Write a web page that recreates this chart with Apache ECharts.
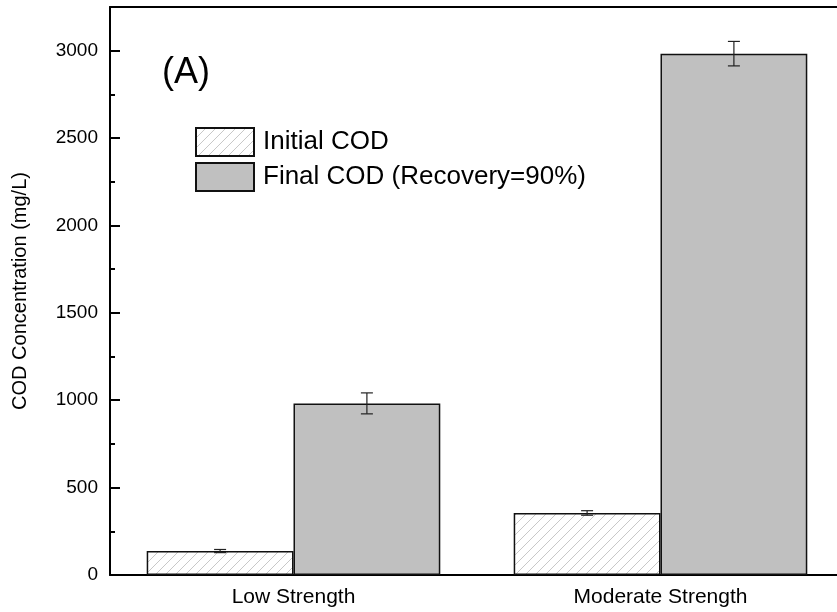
<!DOCTYPE html>
<html>
<head>
<meta charset="utf-8">
<script src="https://cdn.jsdelivr.net/npm/echarts@6/dist/echarts.min.js"></script>
<style>
  html, body { margin: 0; padding: 0; background: #fff; }
  #chart { width: 837px; height: 612px; }
</style>
</head>
<body>
<div id="chart"></div>
<script>
var categories = ['Low Strength', 'Moderate Strength'];
var initialCOD = [137, 355];
var initialErr = [9, 13];
var finalCOD = [982, 2983];
var finalErr = [60, 70];
var yTicks = [0, 500, 1000, 1500, 2000, 2500, 3000];

// hatch pattern for the initial COD bars
function makeHatch() {
    var c = document.createElement('canvas');
    c.width = 10; c.height = 10;
    var ctx = c.getContext('2d');
    ctx.fillStyle = '#fff';
    ctx.fillRect(0, 0, 10, 10);
    ctx.strokeStyle = '#c8c8c8';
    ctx.lineWidth = 1;
    ctx.beginPath();
    ctx.moveTo(-2, 12); ctx.lineTo(12, -2);
    ctx.moveTo(-7, 7); ctx.lineTo(7, -7);
    ctx.moveTo(3, 17); ctx.lineTo(17, 3);
    ctx.stroke();
    return c;
}
var hatch = { image: makeHatch(), repeat: 'repeat' };

function errorSeries(values, errs, offset) {
    return {
        type: 'custom',
        z: 10,
        data: values.map(function (v, i) { return [i, v - errs[i], v + errs[i]]; }),
        renderItem: function (params, api) {
            var lo = api.coord([api.value(0), api.value(1)]);
            var hi = api.coord([api.value(0), api.value(2)]);
            var bw = api.size([1, 0])[0];
            var x = lo[0] + offset * bw;
            var w = 6;
            var st = { stroke: '#222', lineWidth: 1.2 };
            return {
                type: 'group',
                children: [
                    { type: 'line', shape: { x1: x, y1: lo[1], x2: x, y2: hi[1] }, style: st },
                    { type: 'line', shape: { x1: x - w, y1: lo[1], x2: x + w, y2: lo[1] }, style: st },
                    { type: 'line', shape: { x1: x - w, y1: hi[1], x2: x + w, y2: hi[1] }, style: st }
                ]
            };
        }
    };
}

var chart = echarts.init(document.getElementById('chart'));
var option = {
    animation: false,
    textStyle: { fontFamily: 'Liberation Sans, Arial, sans-serif', color: '#000' },
    grid: { left: 110, top: 7, bottom: 37, width: 734, outerBoundsMode: 'none', containLabel: false },
    legend: {
        orient: 'vertical',
        left: 195,
        top: 127,
        icon: 'rect',
        itemWidth: 58,
        itemHeight: 28,
        itemGap: 5,
        padding: 0,
        textStyle: {
            fontSize: 26, lineHeight: 28, color: '#000', padding: [0, 0, 0, 4],
            fontFamily: 'Liberation Sans, Arial, sans-serif'
        },
        data: ['Initial COD', 'Final COD (Recovery=90%)']
    },
    graphic: [{
        type: 'text',
        left: 162,
        top: 55,
        style: { text: '(A)', fontSize: 36, fill: '#000', fontFamily: 'Liberation Sans, Arial, sans-serif' }
    }],
    xAxis: [{
        type: 'category',
        data: categories,
        axisLine: { lineStyle: { color: '#000', width: 2 } },
        axisTick: { inside: true, length: 4, lineStyle: { color: '#000' } },
        axisLabel: { fontSize: 21, color: '#000', margin: 12 }
    }, {
        type: 'category',
        position: 'top',
        data: categories,
        axisLine: { lineStyle: { color: '#000', width: 2 } },
        axisTick: { show: false },
        axisLabel: { show: false }
    }],
    yAxis: {
        type: 'value',
        min: 0,
        max: 3250,
        interval: 500,
        name: 'COD Concentration (mg/L)',
        nameLocation: 'middle',
        nameGap: 80,
        nameTextStyle: { fontSize: 20, color: '#000' },
        axisLine: { show: true, lineStyle: { color: '#000', width: 2 } },
        axisTick: { show: true, inside: true, length: 10, lineStyle: { color: '#000', width: 2 } },
        minorTick: { show: true, splitNumber: 2, length: 5, lineStyle: { color: '#000', width: 2 } },
        axisLabel: {
            fontSize: 19, color: '#000', margin: 12, showMaxLabel: false,
            formatter: function (v) { return yTicks.indexOf(v) >= 0 ? String(v) : ''; }
        },
        splitLine: { show: false }
    },
    series: [{
        name: 'Initial COD',
        type: 'bar',
        barWidth: '40%',
        barGap: '0%',
        data: initialCOD,
        itemStyle: { color: hatch, borderColor: '#111', borderWidth: 1.5 }
    }, {
        name: 'Final COD (Recovery=90%)',
        type: 'bar',
        barWidth: '40%',
        barGap: '0%',
        data: finalCOD,
        itemStyle: { color: '#c0c0c0', borderColor: '#111', borderWidth: 1.5 }
    },
    errorSeries(initialCOD, initialErr, -0.2),
    errorSeries(finalCOD, finalErr, 0.2)
    ]
};
chart.setOption(option);
window.addEventListener('resize', function () { chart.resize(); });
</script>
</body>
</html>
